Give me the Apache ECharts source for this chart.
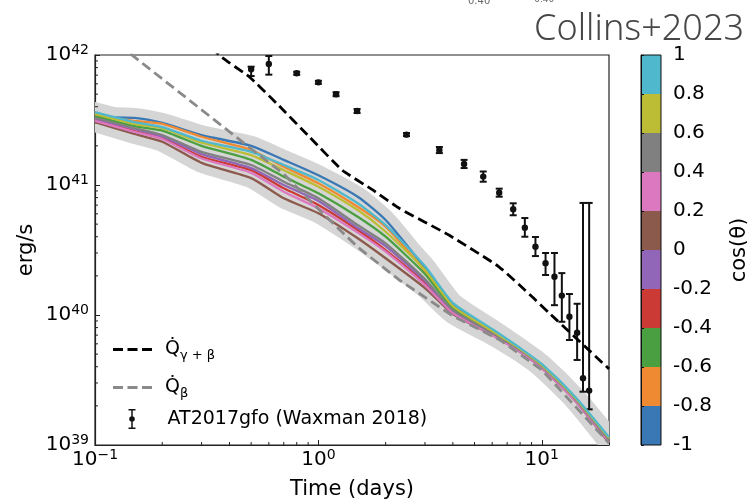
<!DOCTYPE html>
<html>
<head>
<meta charset="utf-8">
<script src="https://cdn.jsdelivr.net/npm/echarts@6/dist/echarts.min.js"></script>
<style>
  html, body { margin: 0; padding: 0; background: #fff; }
  #chart { width: 747px; height: 502px; }
</style>
</head>
<body>
<div id="chart"></div>
<script>
const FONT = 'DejaVu Sans';

// model light curves, one per cos(theta) bin (erg/s)
const times = [0.1, 0.15, 0.2, 0.3, 0.5, 0.7, 1, 1.5, 2, 3, 4, 6, 8, 10, 14, 20];
const lcBlue   = [3.33e41, 3.28e41, 3.0e41, 2.42e41, 2.0e41, 1.56e41, 1.19e41, 8.13e40, 5.38e40, 2.30e40, 1.19e40, 7.67e39, 5.48e39, 4.12e39, 2.34e39, 1.11e39];
const lcOrange = [3.39e41, 3.11e41, 2.95e41, 2.35e41, 1.86e41, 1.38e41, 1.03e41, 6.81e40, 4.78e40, 2.18e40, 1.15e40, 7.53e39, 5.48e39, 4.12e39, 2.34e39, 1.11e39];
const lcGreen  = [3.39e41, 2.84e41, 2.62e41, 2.0e41, 1.56e41, 1.16e41, 8.63e40, 5.70e40, 4.0e40, 2.07e40, 1.13e40, 7.40e39, 5.38e39, 4.05e39, 2.30e39, 1.09e39];
const lcRed    = [3.16e41, 2.60e41, 2.30e41, 1.65e41, 1.30e41, 9.43e40, 7.02e40, 4.51e40, 3.16e40, 1.76e40, 1.055e40, 7.14e39, 5.29e39, 3.98e39, 2.26e39, 1.07e39];
const lcPurple = [3.22e41, 2.70e41, 2.36e41, 1.73e41, 1.35e41, 1.0e41, 7.53e40, 4.67e40, 3.39e40, 1.83e40, 1.07e40, 7.27e39, 5.29e39, 3.98e39, 2.26e39, 1.07e39];
const lcBrown  = [3.05e41, 2.47e41, 2.15e41, 1.48e41, 1.13e41, 7.90e40, 6.06e40, 3.89e40, 2.73e40, 1.61e40, 1.018e40, 7.02e39, 5.19e39, 3.91e39, 2.22e39, 1.036e39];
const lcPink   = [3.11e41, 2.56e41, 2.26e41, 1.60e41, 1.24e41, 8.88e40, 6.62e40, 4.30e40, 3.07e40, 1.70e40, 1.036e40, 7.02e39, 5.19e39, 3.91e39, 2.22e39, 1.055e39];
const lcGray   = [3.28e41, 2.74e41, 2.42e41, 1.80e41, 1.425e41, 1.06e41, 7.90e40, 4.92e40, 3.56e40, 1.89e40, 1.09e40, 7.27e39, 5.38e39, 4.05e39, 2.30e39, 1.09e39];
const lcOlive  = [3.52e41, 2.95e41, 2.74e41, 2.12e41, 1.70e41, 1.30e41, 9.70e40, 6.42e40, 4.37e40, 2.22e40, 1.17e40, 7.53e39, 5.48e39, 4.12e39, 2.34e39, 1.13e39];
const lcCyan   = [3.64e41, 3.05e41, 2.79e41, 2.19e41, 1.80e41, 1.425e41, 1.093e41, 7.23e40, 4.92e40, 2.38e40, 1.24e40, 7.80e39, 5.57e39, 4.20e39, 2.38e39, 1.15e39];

const curves = [lcBlue, lcOrange, lcGreen, lcRed, lcPurple, lcBrown, lcPink, lcGray, lcOlive, lcCyan];
const curveColors = ['#3a78b5', '#f08a32', '#4aa040', '#cc3a35', '#9166b8', '#8c5a4c', '#dc78c0', '#808080', '#bdbd35', '#4fb8cc'];

// heating rates
const qTotT  = [0.3, 0.364, 0.49, 0.65, 0.91, 1.28, 1.75, 2.3, 3.84, 6.43, 9.06, 10.8, 20];
const qTotL  = [1.4e42, 9.8e41, 6.8e41, 4.25e41, 2.35e41, 1.30e41, 9.16e40, 6.62e40, 4.12e40, 2.35e40, 1.38e40, 1.035e40, 3.85e39];
const qBetaT = [0.1, 0.15, 0.3, 0.5, 0.7, 1, 1.5, 2.3, 4, 6.5, 10, 20];
const qBetaL = [1.66e42, 9.66e41, 3.79e41, 1.90e41, 1.215e41, 6.53e40, 3.33e40, 1.86e40, 9.83e39, 6.42e39, 3.78e39, 1.036e39];

// AT2017gfo (Waxman 2018)
const obsT  = [0.50, 0.60, 0.80, 1.0, 1.2, 1.49, 2.48, 3.48, 4.49, 5.47, 6.45, 7.45, 8.4, 9.37, 10.4, 11.4, 12.3, 13.3, 14.4, 15.3, 16.3];
const obsL  = [7.76e41, 8.53e41, 7.23e41, 6.16e41, 4.99e41, 3.71e41, 2.44e41, 1.86e41, 1.45e41, 1.16e41, 8.73e40, 6.5e40, 4.7e40, 3.35e40, 2.5e40, 1.97e40, 1.41e40, 9.7e39, 7.3e39, 3.26e39, 2.62e39];
const obsLo = [6.89e41, 7.06e41, 7.04e41, 6.0e41, 4.82e41, 3.58e41, 2.38e41, 1.76e41, 1.35e41, 1.06e41, 8.13e40, 5.85e40, 4.0e40, 2.84e40, 2.03e40, 1.19e40, 8.87e39, 6.42e39, 4.51e39, 2.57e39, 1.88e39];
const obsHi = [8.13e41, 9.82e41, 7.43e41, 6.33e41, 5.17e41, 3.84e41, 2.51e41, 1.96e41, 1.56e41, 1.27e41, 9.37e40, 7.23e40, 5.57e40, 3.98e40, 3.0e40, 3.0e40, 2.10e40, 1.45e40, 1.22e40, 7.28e40, 7.28e40];

// axes
const X_MIN = 0.1, X_MAX = 20, Y_MIN = 1e39, Y_MAX = 1e42;
const xMinor = [0.2, 0.3, 0.4, 0.5, 0.6, 0.7, 0.8, 0.9, 2, 3, 4, 5, 6, 7, 8, 9];
const yMinor = [2e39, 3e39, 4e39, 5e39, 6e39, 7e39, 8e39, 9e39,
                2e40, 3e40, 4e40, 5e40, 6e40, 7e40, 8e40, 9e40,
                2e41, 3e41, 4e41, 5e41, 6e41, 7e41, 8e41, 9e41];

// colorbar
const cbarEdges = [-1, -0.8, -0.6, -0.4, -0.2, 0, 0.2, 0.4, 0.6, 0.8, 1];

const chart = echarts.init(document.getElementById('chart'));

function powLabel(v) {
  const e = Math.round(Math.log10(v));
  if (Math.abs(Math.log10(v) - e) > 1e-6) return '';
  return '{b|10}{s|' + String(e).replace('-', '\u2212') + '}';
}
const powRich = {
  b: { fontSize: 20, fontFamily: FONT, color: '#000', lineHeight: 24 },
  s: { fontSize: 14, fontFamily: FONT, color: '#000', lineHeight: 12, verticalAlign: 'top' }
};

const series = [];
// grey spread behind the curves, clipped to the plot
series.push({
  type: 'custom', silent: true,
  data: curves.map((c, k) => [X_MIN, Y_MIN, k]),
  encode: { x: 0, y: 1 },
  renderItem: (params, api) => {
    const ys = curves[api.value(2)];
    const pts = times.map((t, i) => api.coord([t, ys[i]]));
    const cs = params.coordSys;
    return {
      type: 'group',
      clipPath: { type: 'rect', shape: { x: cs.x, y: cs.y, width: cs.width, height: cs.height } },
      children: [{
        type: 'polyline',
        shape: { points: pts, smooth: 0.2 },
        style: { stroke: '#d5d5d5', lineWidth: 20, fill: null, lineJoin: 'round', lineCap: 'round' }
      }]
    };
  }
});
curves.forEach((ys, k) => {
  series.push({
    name: 'cos' + k, type: 'line', silent: true, symbol: 'none', smooth: 0.2,
    data: times.map((t, i) => [t, ys[i]]),
    lineStyle: { color: curveColors[k], width: 2.3 }
  });
});
series.push({
  name: 'qbeta', type: 'line', silent: true, symbol: 'none',
  data: qBetaT.map((t, i) => [t, qBetaL[i]]),
  itemStyle: { color: '#8a8a8a' },
  lineStyle: { color: '#8a8a8a', width: 2.8, type: [10, 5] }
});
series.push({
  name: 'qtot', type: 'line', silent: true, symbol: 'none', smooth: 0.15,
  data: qTotT.map((t, i) => [t, qTotL[i]]),
  itemStyle: { color: '#000' },
  lineStyle: { color: '#000', width: 2.8, type: [10, 5] }
});
series.push({
  name: 'obs', type: 'custom', silent: true,
  itemStyle: { color: '#111' },
  data: obsT.map((t, i) => [t, obsL[i], obsLo[i], obsHi[i]]),
  encode: { x: 0, y: [1, 2, 3] },
  renderItem: (params, api) => {
    const p = api.coord([api.value(0), api.value(1)]);
    const lo = api.coord([api.value(0), api.value(2)]);
    const hi = api.coord([api.value(0), api.value(3)]);
    const st = { stroke: '#111', lineWidth: 2 };
    return {
      type: 'group', children: [
        { type: 'line', shape: { x1: p[0], y1: lo[1], x2: p[0], y2: hi[1] }, style: st },
        { type: 'line', shape: { x1: p[0] - 3.5, y1: lo[1], x2: p[0] + 3.5, y2: lo[1] }, style: st },
        { type: 'line', shape: { x1: p[0] - 3.5, y1: hi[1], x2: p[0] + 3.5, y2: hi[1] }, style: st },
        { type: 'circle', shape: { cx: p[0], cy: p[1], r: 3.2 }, style: { fill: '#111' } }
      ]
    };
  }
});
// log minor ticks (inside)
series.push({
  type: 'custom', silent: true,
  data: xMinor.map(v => [v, Y_MIN]),
  renderItem: (params, api) => {
    const p = api.coord([api.value(0), api.value(1)]);
    return { type: 'line', shape: { x1: p[0], y1: p[1], x2: p[0], y2: p[1] - 3 }, style: { stroke: '#222', lineWidth: 1 } };
  }
});
series.push({
  type: 'custom', silent: true,
  data: yMinor.map(v => [X_MIN, v]),
  renderItem: (params, api) => {
    const p = api.coord([api.value(0), api.value(1)]);
    return { type: 'line', shape: { x1: p[0], y1: p[1], x2: p[0] + 3, y2: p[1] }, style: { stroke: '#222', lineWidth: 1 } };
  }
});
// colorbar
series.push({
  type: 'custom', silent: true, xAxisIndex: 1, yAxisIndex: 1, z: -1,
  data: curveColors.map((c, i) => [0, cbarEdges[i], cbarEdges[i + 1], 1]),
  encode: { x: [0, 3], y: [1, 2] },
  renderItem: (params, api) => {
    const a = api.coord([api.value(0), api.value(1)]);
    const b = api.coord([api.value(3), api.value(2)]);
    return {
      type: 'rect',
      shape: { x: a[0], y: b[1], width: b[0] - a[0], height: a[1] - b[1] },
      style: { fill: curveColors[params.dataIndex] }
    };
  }
});

const dashIcon = 'path://M0,0h10v3h-10z M14.5,0h10v3h-10z M29,0h10v3h-10z';
const errIcon = 'path://M0,0h7v1.6h-7z M2.75,0h1.5v20h-1.5z M0,18.4h7v1.6h-7z M6.3,10a2.8,2.8 0 1,1 -5.6,0a2.8,2.8 0 1,1 5.6,0z';
const legendBase = { orient: 'horizontal', padding: 0, selectedMode: false };
const qRich = {
  q: { fontSize: 19, fontFamily: FONT, color: '#000', lineHeight: 26, padding: [0, 0, 0, 8] },
  s: { fontSize: 13, fontFamily: FONT, color: '#000', lineHeight: 16, verticalAlign: 'bottom' }
};

chart.setOption({
  animation: false,
  backgroundColor: '#fff',
  textStyle: { fontFamily: FONT },
  title: {
    text: 'Collins+2023', right: 3, top: 12, padding: 0,
    textStyle: { fontFamily: 'Noto Sans', fontSize: 36, fontWeight: 300, color: '#474747' }
  },
  graphic: [
    { type: 'text', left: 468, top: -4, style: { text: '0.40', fontSize: 10, fill: '#666', fontFamily: FONT } },
    { type: 'text', left: 531, top: -5, style: { text: '-0.40', fontSize: 9, fill: '#666', fontFamily: FONT } }
  ],
  legend: [
    Object.assign({}, legendBase, {
      left: 113, top: 340, itemWidth: 39, itemHeight: 3,
      data: [{ name: 'qtot', icon: dashIcon }],
      itemStyle: { color: '#000', borderWidth: 0 },
      formatter: () => '{q|Q\u0307}{s|\u03b3 + \u03b2}',
      textStyle: { rich: qRich }
    }),
    Object.assign({}, legendBase, {
      left: 113, top: 378, itemWidth: 39, itemHeight: 3,
      data: [{ name: 'qbeta', icon: dashIcon }],
      itemStyle: { color: '#8a8a8a', borderWidth: 0 },
      formatter: () => '{q|Q\u0307}{s|\u03b2}',
      textStyle: { rich: qRich }
    }),
    Object.assign({}, legendBase, {
      left: 128.5, top: 409, itemWidth: 7, itemHeight: 20,
      data: [{ name: 'obs', icon: errIcon }],
      itemStyle: { color: '#111', borderWidth: 0 },
      formatter: () => '{t|AT2017gfo (Waxman 2018)}',
      textStyle: {
        rich: { t: { fontSize: 19, fontFamily: FONT, color: '#000', lineHeight: 24, padding: [0, 0, 0, 27] } }
      }
    })
  ],
  grid: [
    { left: 95, top: 55, width: 514, height: 390, show: true, borderColor: '#222', borderWidth: 1.2,
      backgroundColor: 'transparent', outerBoundsMode: 'none', containLabel: false },
    { left: 641, top: 55, width: 20, height: 390, show: true, borderColor: '#111', borderWidth: 1,
      backgroundColor: 'transparent', outerBoundsMode: 'none', containLabel: false }
  ],
  xAxis: [
    {
      type: 'log', logBase: 10, min: X_MIN, max: X_MAX, gridIndex: 0,
      axisLine: { show: true, lineStyle: { color: '#222', width: 1.2 } },
      axisTick: { show: true, inside: true, length: 5, lineStyle: { color: '#222' } },
      splitLine: { show: false },
      axisLabel: { formatter: powLabel, rich: powRich, margin: 3 },
      name: 'Time (days)', nameLocation: 'middle', nameGap: 34, nameMoveOverlap: false,
      nameTextStyle: { fontSize: 21, fontFamily: FONT, color: '#000' }
    },
    { type: 'value', gridIndex: 1, min: 0, max: 1, show: false }
  ],
  yAxis: [
    {
      type: 'log', logBase: 10, min: Y_MIN, max: Y_MAX, gridIndex: 0,
      axisLine: { show: true, lineStyle: { color: '#222', width: 1.2 } },
      axisTick: { show: true, inside: true, length: 5, lineStyle: { color: '#222' } },
      splitLine: { show: false },
      axisLabel: { formatter: powLabel, rich: powRich, margin: 6 },
      name: 'erg/s', nameLocation: 'middle', nameGap: 58, nameMoveOverlap: false,
      nameTextStyle: { fontSize: 21, fontFamily: FONT, color: '#000' }
    },
    {
      type: 'value', gridIndex: 1, min: -1, max: 1, interval: 0.2, position: 'right',
      axisLine: { show: true, lineStyle: { color: '#111', width: 1 } },
      axisTick: { show: true, inside: false, length: 3, lineStyle: { color: '#111' } },
      splitLine: { show: false },
      axisLabel: {
        margin: 12, fontSize: 20, fontFamily: FONT, color: '#000',
        formatter: v => String(Number(v.toFixed(1)))
      },
      name: 'cos(\u03b8)', nameLocation: 'middle', nameRotate: 90, nameGap: 68, nameMoveOverlap: false,
      nameTextStyle: { fontSize: 21, fontFamily: FONT, color: '#000' }
    }
  ],
  series: series
});
</script>
</body>
</html>
